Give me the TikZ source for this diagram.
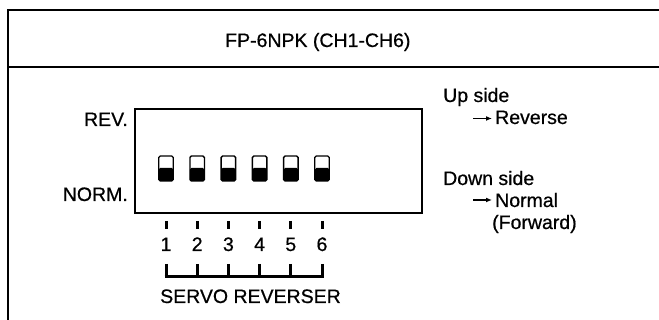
\documentclass[tikz,border=0pt]{standalone}
\usepackage{fontspec}
\setmainfont{Liberation Sans}
\newfontfamily\heavysans{Liberation Sans}[FakeBold=0.6]
\usetikzlibrary{arrows.meta}
\begin{document}
\begin{tikzpicture}[x=1pt,y=-1pt,
  txt/.style={inner sep=0pt,font=\heavysans\fontsize{19.5}{23}\selectfont},
  frameline/.style={line width=1.8pt},
  boxline/.style={line width=1.4pt},
  sw/.style={draw,line width=1.4pt,minimum width=14.5pt,minimum height=25pt,inner sep=0pt,rounded corners=1.5pt,
    path picture={\fill[black] ([yshift=-12pt]path picture bounding box.north west) rectangle (path picture bounding box.south east);}},
  tick/.style={line width=3pt},
  brk/.style={line width=3pt},
  arr/.style={line width=1.4pt,-{Latex[length=6pt,width=5pt]}}]
\useasboundingbox (0,0) rectangle (659,320);
% outer frame
\draw[frameline] (670,10) -- (8,10) -- (8,330);
\draw[frameline] (8,67) -- (670,67);
\node[txt,anchor=base west] (title) at (225,47) {FP-6NPK (CH1-CH6)};
% switch box
\draw[boxline] (135,109) rectangle (422,213);
\node[txt,anchor=base east] (rev) at (128,126) {REV.};
\node[txt,anchor=base east] (norm) at (128,201) {NORM.};
% switches, ticks, numbers, bracket
\foreach \i in {1,...,6}{
  \pgfmathsetmacro\xx{166+31.2*(\i-1)}
  \node[sw] (s\i) at (\xx,168.5) {};
  \coordinate (ta\i) at (\xx,221);
  \coordinate (tb\i) at (\xx,229);
  \draw[tick] (ta\i) -- (tb\i);
  \node[txt,anchor=base] (n\i) at (\xx,251) {\i};
  \coordinate (ba\i) at (\xx,264);
  \coordinate (bb\i) at (\xx,277);
  \draw[brk] (ba\i) -- (bb\i);
}
\draw[brk] ([xshift=-1.5pt]bb1) -- ([xshift=1.5pt]bb6);
\node[txt,anchor=base west] (servo) at (160,303) {SERVO REVERSER};
% right legend
\node[txt,anchor=base west] (up) at (443,102) {Up side};
\node[txt,anchor=base west] (reverse) at (495,124) {Reverse};
\node[txt,anchor=base west] (down) at (443,185) {Down side};
\node[txt,anchor=base west] (normal) at (495,207) {Normal};
\node[txt,anchor=base west] (fwd) at (492,229) {(Forward)};
\coordinate (a1) at (473,118.5);
\coordinate (a2) at (473,200);
\draw[arr] (a1) -- ([xshift=-3pt]reverse.west |- a1);
\draw[arr] (a2) -- ([xshift=-3pt]normal.west |- a2);
\end{tikzpicture}
\end{document}
